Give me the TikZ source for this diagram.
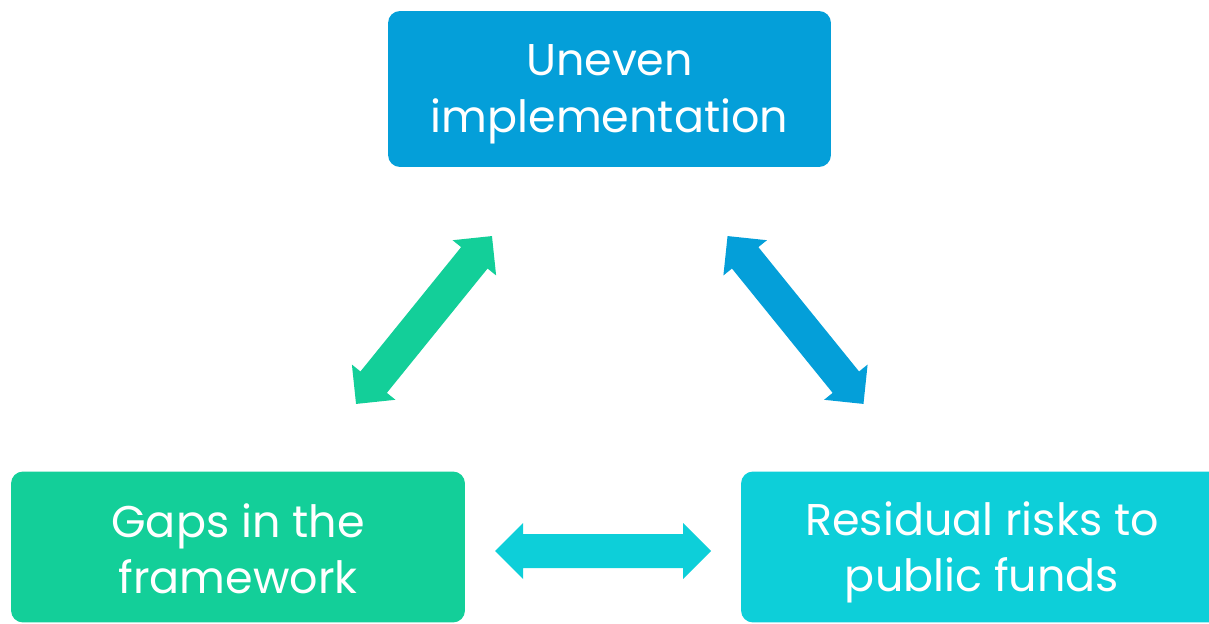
\documentclass[tikz,border=0pt]{standalone}
\usepackage{fontspec}
\setmainfont{Poppins}

\definecolor{topblue}{HTML}{049FD9}
\definecolor{gapgreen}{HTML}{13CF99}
\definecolor{riskcyan}{HTML}{0DCFD9}

\begin{document}
\begin{tikzpicture}[x=0.02cm, y=-0.02cm,
    box/.style={rounded corners=0.24cm, inner sep=0pt},
    boxtext/.style={text=white, align=center,
      font=\fontsize{25.3}{32.3}\selectfont},
    twoway/.pic={
      \fill (-108,0) -- (-80,-28) -- (-80,-17) -- (80,-17) -- (80,-28)
        -- (108,0) -- (80,28) -- (80,17) -- (-80,17) -- (-80,28) -- cycle;
      \coordinate (-a) at (-108,0);
      \coordinate (-b) at (108,0);
    }]
  \clip (0,0) rectangle (1209,624);

  \node[box, fill=topblue, minimum width=8.86cm, minimum height=3.12cm]
    (uneven) at (609.5,89) {};
  \node[box, fill=gapgreen, minimum width=9.08cm, minimum height=3.02cm]
    (gaps) at (238,547) {};
  \node[box, fill=riskcyan, minimum width=9.64cm, minimum height=3.02cm]
    (risks) at (982,547) {};

  \node[boxtext] at ([yshift=-3pt]uneven.center) {Uneven\\implementation};
  \node[boxtext] at ([yshift=-1pt]gaps.center) {Gaps in the\\framework};
  \node[boxtext] at ([yshift=-3pt]risks.center) {Residual risks to\\public funds};

  % the three two-way links
  \pic[gapgreen, rotate=51] (gapsup) at (424,320) {twoway};
  \pic[topblue, rotate=-51] (risksup) at (795.5,320) {twoway};
  \pic[riskcyan] (across) at (603,551) {twoway};
\end{tikzpicture}
\end{document}
